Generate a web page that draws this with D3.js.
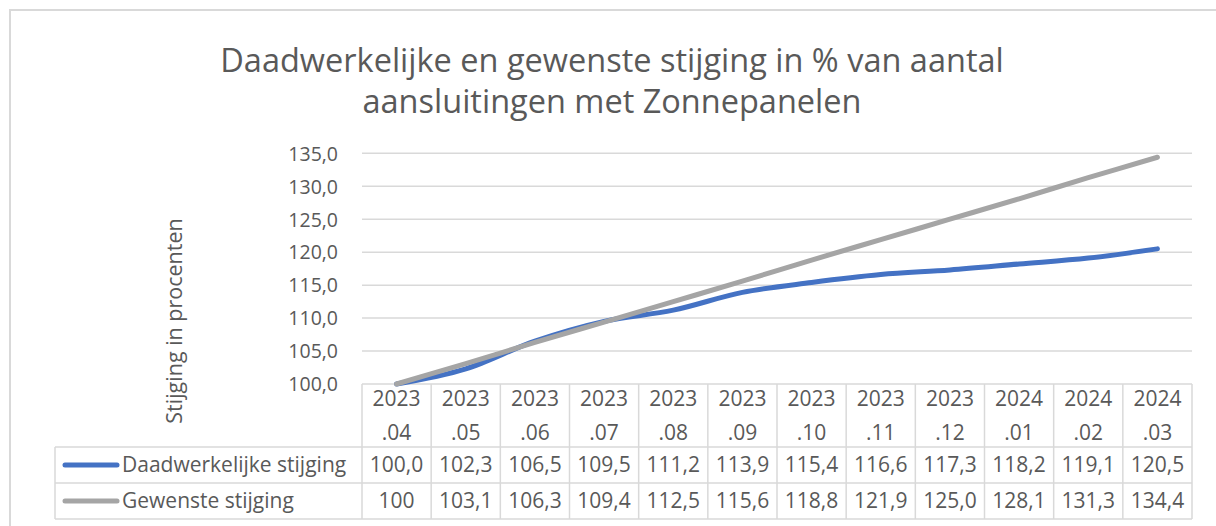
<!DOCTYPE html>
<html>
<head>
<meta charset="utf-8">
<script src="https://d3js.org/d3.v7.min.js"></script>
<style>
  body { margin: 0; background: #fff; }
  text { font-family: "Open Sans", sans-serif; fill: #595959; }
</style>
</head>
<body>
<div id="chart"></div>
<script>
// data
const maanden = ["2023.04", "2023.05", "2023.06", "2023.07", "2023.08", "2023.09",
                 "2023.10", "2023.11", "2023.12", "2024.01", "2024.02", "2024.03"];
const daadwerkelijk = [100.0, 102.3, 106.5, 109.5, 111.2, 113.9, 115.4, 116.6, 117.3, 118.2, 119.1, 120.5];
const gewenst = [100, 103.1, 106.3, 109.4, 112.5, 115.6, 118.8, 121.9, 125.0, 128.1, 131.3, 134.4];
const yTicks = [100, 105, 110, 115, 120, 125, 130, 135];

const series = [
  { naam: "Daadwerkelijke stijging", values: daadwerkelijk, kleur: "#4472C4" },
  { naam: "Gewenste stijging", values: gewenst, kleur: "#A5A5A5", eersteAlsGetal: true }
];

const width = 1216, height = 526;
const plot = { left: 362, right: 1192, top: 153, bottom: 384 };
const rowH = [63, 36, 36];
const legendLeft = 55;
const tabelFont = "21px";

const nl = d3.formatLocale({ decimal: ",", thousands: ".", grouping: [3], currency: ["€", ""] });
const fmt = nl.format(".1f");

const svg = d3.select("#chart").append("svg")
  .attr("width", width)
  .attr("height", height);

// chart frame
svg.append("path")
  .attr("d", `M10,${height + 5} V10 H${width + 5}`)
  .attr("fill", "none")
  .attr("stroke", "#D9D9D9")
  .attr("stroke-width", 2);

// title
const title = svg.append("text")
  .attr("x", 612)
  .attr("text-anchor", "middle")
  .style("font-size", "32.5px");
title.append("tspan").attr("x", 612).attr("y", 72).text("Daadwerkelijke en gewenste stijging in % van aantal");
title.append("tspan").attr("x", 612).attr("y", 113).text("aansluitingen met Zonnepanelen");

// scales
const x = d3.scaleBand()
  .domain(maanden)
  .range([plot.left, plot.right]);

const y = d3.scaleLinear()
  .domain([100, 135])
  .range([plot.bottom, plot.top + 0.3]);

// gridlines
svg.append("g")
  .selectAll("line")
  .data(yTicks.slice(1))
  .join("line")
  .attr("x1", plot.left)
  .attr("x2", plot.right)
  .attr("y1", d => y(d))
  .attr("y2", d => y(d))
  .attr("stroke", "#D9D9D9")
  .attr("stroke-width", 1.5);

// y axis labels
const yAxis = svg.append("g")
  .attr("transform", "translate(338,0)")
  .call(d3.axisLeft(y).tickValues(yTicks).tickFormat(fmt).tickSize(0).tickPadding(0));
yAxis.select(".domain").remove();
yAxis.selectAll("text")
  .style("font-family", "\"Open Sans\", sans-serif")
  .style("font-size", "19.5px")
  .attr("fill", "#595959")
  .attr("dy", "0.35em");

// y axis title
svg.append("text")
  .attr("transform", "translate(182,321) rotate(-90)")
  .attr("text-anchor", "middle")
  .style("font-size", "21.5px")
  .text("Stijging in procenten");

// data table
const tabel = svg.append("g");
const rowTop = [plot.bottom, plot.bottom + rowH[0], plot.bottom + rowH[0] + rowH[1]];
const tabelBottom = rowTop[2] + rowH[2];
const grid = "#D9D9D9";

// horizontal table lines
tabel.selectAll("line.h")
  .data([
    { x1: plot.left, y: rowTop[0] },
    { x1: legendLeft, y: rowTop[1] },
    { x1: legendLeft, y: rowTop[2] },
    { x1: legendLeft, y: tabelBottom }
  ])
  .join("line")
  .attr("class", "h")
  .attr("x1", d => d.x1)
  .attr("x2", plot.right)
  .attr("y1", d => d.y)
  .attr("y2", d => d.y)
  .attr("stroke", grid)
  .attr("stroke-width", 1.5);

// vertical table lines
const colEdges = maanden.map(m => x(m)).concat([plot.right]);
tabel.selectAll("line.v")
  .data(colEdges)
  .join("line")
  .attr("class", "v")
  .attr("x1", d => d)
  .attr("x2", d => d)
  .attr("y1", rowTop[0])
  .attr("y2", tabelBottom)
  .attr("stroke", grid)
  .attr("stroke-width", 1.5);

tabel.append("line")
  .attr("x1", legendLeft).attr("x2", legendLeft)
  .attr("y1", rowTop[1]).attr("y2", tabelBottom)
  .attr("stroke", grid)
  .attr("stroke-width", 1.5);

// header (category labels, two lines)
const header = tabel.selectAll("text.cat")
  .data(maanden)
  .join("text")
  .attr("class", "cat")
  .attr("text-anchor", "middle")
  .style("font-size", tabelFont);
header.append("tspan")
  .attr("x", d => x(d) + x.bandwidth() / 2)
  .attr("y", 406)
  .text(d => d.split(".")[0]);
header.append("tspan")
  .attr("x", d => x(d) + x.bandwidth() / 2)
  .attr("y", 440)
  .text(d => "." + d.split(".")[1]);

// series rows
series.forEach((s, i) => {
  const cy = rowTop[i + 1] + rowH[i + 1] / 2;

  tabel.append("line")
    .attr("x1", 65).attr("x2", 117)
    .attr("y1", cy).attr("y2", cy)
    .attr("stroke", s.kleur)
    .attr("stroke-width", 5)
    .attr("stroke-linecap", "round");

  tabel.append("text")
    .attr("x", 122)
    .attr("y", cy)
    .attr("dy", "0.35em")
    .style("font-size", tabelFont)
    .text(s.naam);

  tabel.selectAll("text.v" + i)
    .data(s.values)
    .join("text")
    .attr("class", "v" + i)
    .attr("x", (d, j) => x(maanden[j]) + x.bandwidth() / 2)
    .attr("y", cy)
    .attr("dy", "0.35em")
    .attr("text-anchor", "middle")
    .style("font-size", tabelFont)
    .text((d, j) => (s.eersteAlsGetal && j === 0) ? String(d) : fmt(d));
});

// lines
const line = d3.line()
  .x((d, j) => x(maanden[j]) + x.bandwidth() / 2)
  .y(d => y(d))
  .curve(d3.curveCatmullRom.alpha(0));

series.forEach(s => {
  svg.append("path")
    .datum(s.values)
    .attr("fill", "none")
    .attr("stroke", s.kleur)
    .attr("stroke-width", 5)
    .attr("stroke-linecap", "round")
    .attr("stroke-linejoin", "round")
    .attr("d", line);
});
</script>
</body>
</html>
